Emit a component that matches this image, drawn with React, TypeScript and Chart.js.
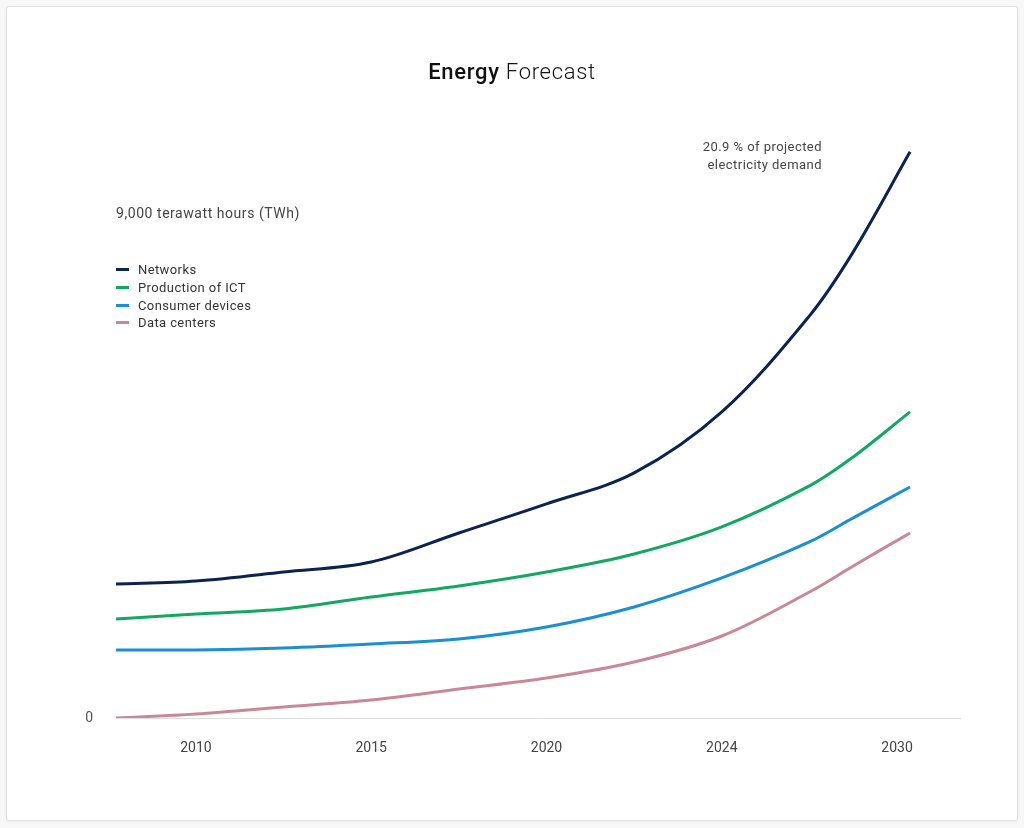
import React, { useEffect, useRef } from "react";
import { Chart, registerables } from "chart.js";

Chart.register(...registerables);

// x positions expressed in axis-tick units (0 = 2010 tick, 4 = 2030 tick)
const xPositions = [-0.456, 0, 0.5, 1, 1.5, 2, 2.5, 3, 3.5, 3.75, 4.074];
const tickLabels = ["2010", "2015", "2020", "2024", "2030"];

const seriesNames = ["Networks", "Production of ICT", "Consumer devices", "Data centers"];
const seriesColors = ["#0c2350", "#13a862", "#1b8fd2", "#c9889a"];

const networks = [2398, 2451, 2612, 2790, 3310, 3829, 4384, 5475, 7193, 8338, 10127];
const productionICT = [1771, 1861, 1950, 2165, 2362, 2612, 2934, 3418, 4151, 4670, 5475];
const consumerDevices = [1217, 1217, 1253, 1324, 1414, 1628, 1986, 2505, 3149, 3579, 4133];
const dataCenters = [0, 72, 197, 322, 519, 716, 1002, 1467, 2254, 2720, 3310];

const seriesValues = [networks, productionICT, consumerDevices, dataCenters];

const unitLabelValue = 9000;
const unitLabel = "9,000 terawatt hours (TWh)";
const annotationLines = ["20.9 % of projected", "electricity demand"];

const FONT = "Roboto, 'Noto Sans', sans-serif";

export default function App() {
  const canvasRef = useRef<HTMLCanvasElement | null>(null);

  useEffect(() => {
    if (!canvasRef.current) return;
    const unitPlugin = {
      id: "unitLabel",
      afterDraw(chart: any) {
        const { ctx, scales, chartArea } = chart;
        const y = scales.y.getPixelForValue(unitLabelValue);
        ctx.save();
        ctx.font = `14px ${FONT}`;
        (ctx as any).letterSpacing = "0.55px";
        ctx.fillStyle = "#444";
        ctx.textAlign = "left";
        ctx.textBaseline = "middle";
        ctx.fillText(unitLabel, chartArea.left, y);
        ctx.restore();
      },
    };
    const chart = new Chart(canvasRef.current, {
      type: "line",
      data: {
        datasets: seriesNames.map((name, si) => ({
          label: name,
          data: xPositions.map((x, i) => ({ x, y: seriesValues[si][i] })),
          borderColor: seriesColors[si],
          backgroundColor: seriesColors[si],
          borderWidth: 3,
          pointRadius: 0,
          tension: 0.35,
          fill: false,
        })),
      },
      options: {
        animation: false,
        responsive: false,
        maintainAspectRatio: false,
        layout: { padding: { top: 131, right: 64, bottom: 0, left: 0 } },
        plugins: {
          legend: { display: false },
          title: { display: false },
          tooltip: { enabled: false },
        },
        scales: {
          x: {
            type: "linear",
            min: -0.456,
            max: 4.359,
            grid: { display: false, drawTicks: false },
            border: { display: true, color: "#dedede", width: 1 },
            afterBuildTicks: (scale: any) => {
              scale.ticks = tickLabels.map((_, i) => ({ value: i }));
            },
            afterFit: (scale: any) => {
              scale.height = 110;
            },
            ticks: {
              padding: 22,
              color: "#444",
              font: { family: FONT, size: 14 },
              maxRotation: 0,
              autoSkip: false,
              callback: (v: any) => tickLabels[Math.round(Number(v))] ?? "",
            },
          },
          y: {
            type: "linear",
            min: 0,
            max: 10500,
            grid: { display: false, drawTicks: false },
            border: { display: false },
            afterBuildTicks: (scale: any) => {
              scale.ticks = [{ value: 0 }];
            },
            afterFit: (scale: any) => {
              scale.width = 116;
            },
            ticks: {
              padding: 23,
              color: "#555",
              font: { family: FONT, size: 14 },
              callback: (v: any) => (Number(v) === 0 ? "0" : ""),
            },
          },
        },
      },
      plugins: [unitPlugin],
    } as any);
    return () => chart.destroy();
  }, []);

  return (
    <div
      style={{
        position: "absolute",
        left: 0,
        top: 0,
        width: 1024,
        height: 828,
        background: "#f8f8f8",
        fontFamily: FONT,
      }}
    >
      <div
        style={{
          position: "absolute",
          left: 6,
          top: 6,
          width: 1010,
          height: 813,
          background: "#fff",
          border: "1px solid #e2e2e2",
          borderRadius: 3,
          boxShadow: "0 1px 3px rgba(0,0,0,0.06)",
        }}
      />
      <canvas
        ref={canvasRef}
        width={1024}
        height={828}
        style={{ position: "absolute", left: 0, top: 0, width: 1024, height: 828 }}
      />
      <div
        style={{
          position: "absolute",
          left: 0,
          width: 1024,
          top: 57,
          textAlign: "center",
          fontSize: 22,
          letterSpacing: "0.7px",
          lineHeight: "30px",
          color: "#111",
        }}
      >
        <span style={{ fontWeight: 500 }}>Energy</span>{" "}
        <span style={{ fontWeight: 300 }}>Forecast</span>
      </div>
      <div
        style={{
          position: "absolute",
          right: 1024 - 822,
          top: 138,
          textAlign: "right",
          fontSize: 13,
          letterSpacing: "0.45px",
          lineHeight: "18px",
          color: "#444",
        }}
      >
        {annotationLines.map((l) => (
          <div key={l}>{l}</div>
        ))}
      </div>
      <div style={{ position: "absolute", left: 116, top: 261 }}>
        {seriesNames.map((name, i) => (
          <div
            key={name}
            style={{
              display: "flex",
              alignItems: "center",
              height: 17.7,
              fontSize: 13,
              letterSpacing: "0.4px",
              color: "#333",
            }}
          >
            <span
              style={{
                display: "inline-block",
                width: 13,
                height: 3,
                background: seriesColors[i],
                marginRight: 9,
              }}
            />
            {name}
          </div>
        ))}
      </div>
    </div>
  );
}
